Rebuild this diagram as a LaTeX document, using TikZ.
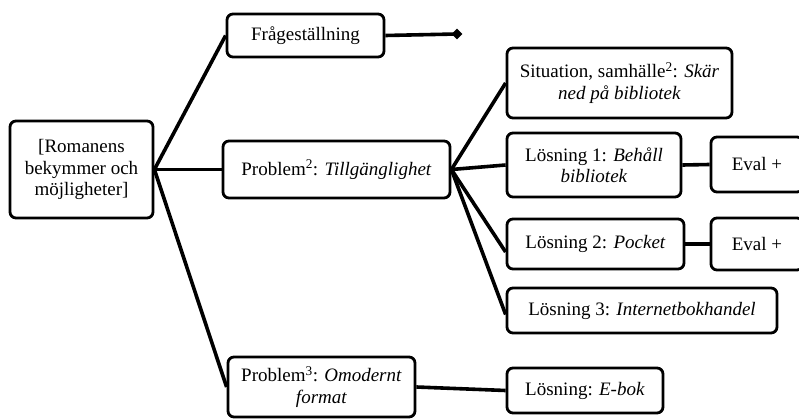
\documentclass[tikz,border=0pt]{standalone}
\usepackage{fontspec}
\setmainfont{Liberation Serif}
\usetikzlibrary{shapes.geometric}
\begin{document}
\begin{tikzpicture}[x=1pt,y=-1pt,
  box/.style={draw, line width=2.8pt, rounded corners=6pt, fill=white,
    align=center, inner sep=0pt, font=\fontsize{19}{21.5}\selectfont},
  link/.style={line width=3.6pt},
  tip/.style={diamond, fill=black, inner sep=0pt, minimum width=11pt, minimum height=11pt}]
\useasboundingbox (0,0) rectangle (799,419);
\clip (0,0) rectangle (799,419);
% outline boxes, placed by centre
\node[box, minimum width=143, minimum height=97] (root) at (81.5,169.5)
  {[Romanens\\bekymmer och\\möjligheter]};
\node[box, minimum width=157, minimum height=43] (fraga) at (305.5,35.5) {Frågeställning};
\node[box, minimum width=227, minimum height=57] (p2) at (336.5,169.5)
  {Problem\textsuperscript{2}: \textit{Tillgänglighet}};
\node[box, minimum width=187, minimum height=60] (p3) at (321.5,387)
  {Problem\textsuperscript{3}: \textit{Omodernt}\\\textit{format}};
\node[box, minimum width=225, minimum height=70] (sit) at (619.5,83)
  {Situation, samhälle\textsuperscript{2}: \textit{Skär}\\\textit{ned på bibliotek}};
\node[box, minimum width=174, minimum height=64] (l1) at (594,165)
  {Lösning 1: \textit{Behåll}\\\textit{bibliotek}};
\node[box, minimum width=177, minimum height=50] (l2) at (595.5,244)
  {Lösning 2: \textit{Pocket}};
\node[box, minimum width=270, minimum height=45] (l3) at (642,310.5)
  {Lösning 3: \textit{Internetbokhandel}};
\node[box, minimum width=92, minimum height=55] (e1) at (757,164.5) {Eval +};
\node[box, minimum width=92, minimum height=52] (e2) at (757,244) {Eval +};
\node[box, minimum width=156, minimum height=45] (ebok) at (585,390.5)
  {Lösning: \textit{E-bok}};
\node[tip] (end) at (457,34) {};
% connectors
\draw[link] (root.east) -- (fraga.west);
\draw[link] (root.east) -- (p2.west);
\draw[link] (root.east) -- (p3.west);
\draw[link] (fraga.east) -- (end.center);
\draw[link] (p2.east) -- (sit.west);
\draw[link] (p2.east) -- (l1.west);
\draw[link] (p2.east) -- ([yshift=-8pt]l2.west);
\draw[link] (p2.east) -- ([yshift=-4pt]l3.west);
\draw[link] (l1.east) -- (e1.west);
\draw[link] (l2.east) -- (e2.west);
\draw[link] (p3.east) -- (ebok.west);
\end{tikzpicture}
\end{document}
